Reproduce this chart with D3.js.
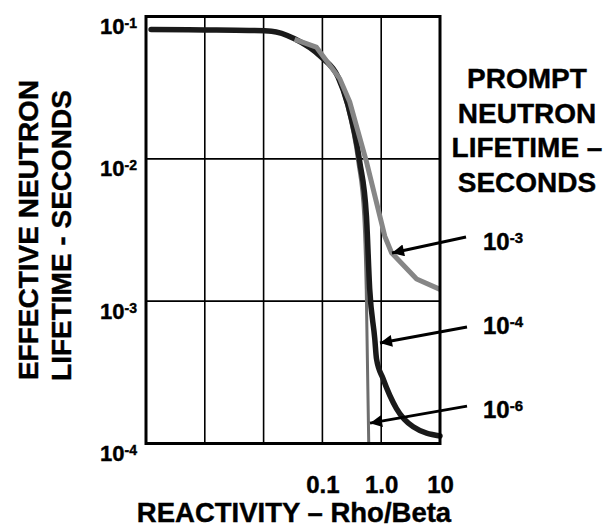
<!DOCTYPE html>
<html>
<head>
<meta charset="utf-8">
<script src="https://cdn.jsdelivr.net/npm/d3@7/dist/d3.min.js"></script>
<style>
  html, body { margin: 0; padding: 0; background: #fff; }
  text { font-family: "Liberation Sans", Arial, Helvetica, sans-serif; font-weight: bold; fill: #000; stroke: #000; stroke-width: 0.4px; }
</style>
</head>
<body>
<svg id="chart" width="604" height="529"></svg>
<script>
// ---- data ----
const xTickValues = [0.1, 1, 10];
const xTickLabels = ["0.1", "1.0", "10"];
const yTickValues = [1e-4, 1e-3, 1e-2, 1e-1];
const yTickExponents = ["-4", "-3", "-2", "-1"];
const xGridValues = [1e-3, 1e-2, 1e-1, 1];
const yGridValues = [1e-3, 1e-2];

// prompt neutron lifetime 1e-6 s
const series6x = [1.22e-4, 0.001, 0.0057, 0.0136, 0.0336, 0.0957, 0.18, 0.259, 0.399, 0.505, 0.557, 0.614];
const series6y = [0.081, 0.0805, 0.0798, 0.0789, 0.0698, 0.0519, 0.0377, 0.0239, 0.00957, 0.00399, 0.00121, 0.0001];
// prompt neutron lifetime 1e-4 s
const series4x = [1.22e-4, 0.001, 0.0057, 0.0136, 0.0336, 0.0957, 0.184, 0.272, 0.431, 0.561, 0.638, 0.778, 0.832, 1.077, 1.82, 3.5, 10];
const series4y = [0.081, 0.0805, 0.0798, 0.0789, 0.0698, 0.0519, 0.0377, 0.0239, 0.00957, 0.00395, 0.00121, 0.000542, 0.000393, 0.000285, 0.000176, 0.000131, 0.000113];
// prompt neutron lifetime 1e-3 s
const series3x = [0.0336, 0.0787, 0.197, 0.291, 0.561, 1.15, 1.5, 4.0, 10];
const series3y = [0.069, 0.061, 0.0366, 0.0252, 0.00957, 0.00286, 0.00219, 0.00143, 0.00121];

// annotation arrows
const arrowLabels = ["-3", "-4", "-6"];
const arrowTailX = [27.7, 28.8, 28.8];
const arrowTailY = [0.00282, 0.000658, 0.000183];
const arrowTipX = [1.527, 0.955, 0.645];
const arrowTipY = [0.00218, 0.000508, 0.000139];
const labelX = [53.9, 53.9, 53.9];
const labelY = [0.00229, 0.000587, 0.000151];

const legendTitle = ["PROMPT", "NEUTRON", "LIFETIME \u2013", "SECONDS"];
const yTitle = ["EFFECTIVE NEUTRON", "LIFETIME - SECONDS"];
const xTitle = "REACTIVITY \u2013 Rho/Beta";

// ---- chart ----
const svg = d3.select("#chart");
const x = d3.scaleLog().domain([1e-4, 10]).range([146, 440]);
const y = d3.scaleLog().domain([1e-4, 1e-1]).range([443.5, 16.5]);

// grid
svg.append("g").selectAll("line").data(xGridValues).join("line")
  .attr("x1", d => x(d)).attr("x2", d => x(d))
  .attr("y1", y.range()[0]).attr("y2", y.range()[1])
  .attr("stroke", "#000").attr("stroke-width", 1.6);
svg.append("g").selectAll("line").data(yGridValues).join("line")
  .attr("y1", d => y(d)).attr("y2", d => y(d))
  .attr("x1", x.range()[0]).attr("x2", x.range()[1])
  .attr("stroke", "#000").attr("stroke-width", 1.6);

// curves
const line = d3.line().x(d => x(d[0])).y(d => y(d[1]));
const zip = (a, b) => a.map((v, i) => [v, b[i]]);

svg.append("path").datum(zip(series6x, series6y))
  .attr("d", line.curve(d3.curveMonotoneX))
  .attr("fill", "none").attr("stroke", "#6e6e6e").attr("stroke-width", 3);
svg.append("path").datum(zip(series4x, series4y))
  .attr("d", line.curve(d3.curveMonotoneX))
  .attr("fill", "none").attr("stroke", "#1a1a1a").attr("stroke-width", 5.5)
  .attr("stroke-linecap", "round").attr("stroke-linejoin", "round");
svg.append("path").datum(zip(series3x, series3y))
  .attr("d", line.curve(d3.curveLinear))
  .attr("fill", "none").attr("stroke", "#868686").attr("stroke-width", 5)
  .attr("stroke-linejoin", "round");

// frame
svg.append("rect")
  .attr("x", x.range()[0]).attr("y", y.range()[1])
  .attr("width", x.range()[1] - x.range()[0]).attr("height", y.range()[0] - y.range()[1])
  .attr("fill", "none").attr("stroke", "#000").attr("stroke-width", 3);

// x axis
const xAxis = svg.append("g").attr("transform", `translate(0,${y.range()[0]})`)
  .call(d3.axisBottom(x).tickValues(xTickValues)
    .tickFormat((d, i) => xTickLabels[i]).tickSize(0).tickPadding(32.5));
xAxis.select(".domain").remove();
xAxis.selectAll("text").attr("font-size", 24).attr("font-family", null).attr("fill", "#000");

// y axis
const yAxis = svg.append("g").attr("transform", `translate(${x.range()[0]},0)`)
  .call(d3.axisLeft(y).tickValues(yTickValues).tickFormat("").tickSize(0).tickPadding(9));
yAxis.select(".domain").remove();
yAxis.selectAll(".tick text").each(function(d, i) {
  const t = d3.select(this).attr("dy", 17).attr("font-family", null).attr("fill", "#000");
  t.text(null);
  t.append("tspan").attr("font-size", 22).text("10");
  t.append("tspan").attr("font-size", 14).attr("dy", -6).text(yTickExponents[i]);
});

// arrows
svg.append("defs").append("marker")
  .attr("id", "ah").attr("viewBox", "0 0 10 10").attr("refX", 10).attr("refY", 5)
  .attr("markerWidth", 5.5).attr("markerHeight", 4).attr("markerUnits", "strokeWidth")
  .attr("orient", "auto")
  .append("path").attr("d", "M0,0 L10,5 L0,10 Z").attr("fill", "#000");

arrowLabels.forEach((lab, i) => {
  svg.append("line")
    .attr("x1", x(arrowTailX[i])).attr("y1", y(arrowTailY[i]))
    .attr("x2", x(arrowTipX[i])).attr("y2", y(arrowTipY[i]))
    .attr("stroke", "#000").attr("stroke-width", 3)
    .attr("marker-end", "url(#ah)");
  const t = svg.append("text").attr("x", x(labelX[i])).attr("y", y(labelY[i]));
  t.append("tspan").attr("font-size", 24).text("10");
  t.append("tspan").attr("font-size", 15).attr("dy", -7).text(lab);
});

// legend title
svg.append("text").attr("text-anchor", "middle").attr("font-size", 28)
  .selectAll("tspan").data(legendTitle).join("tspan")
  .attr("x", 527).attr("y", (d, i) => 88 + i * 34.7).text(d => d);

// y title
yTitle.forEach((s, i) => {
  svg.append("text").attr("text-anchor", "middle").attr("font-size", 28)
    .attr("transform", `translate(${[38, 71][i]},${[230, 235.5][i]}) rotate(-90)`)
    .text(s);
});

// x title
svg.append("text").attr("text-anchor", "middle").attr("font-size", 27.5)
  .attr("x", 294).attr("y", 522).text(xTitle);
</script>
</body>
</html>
